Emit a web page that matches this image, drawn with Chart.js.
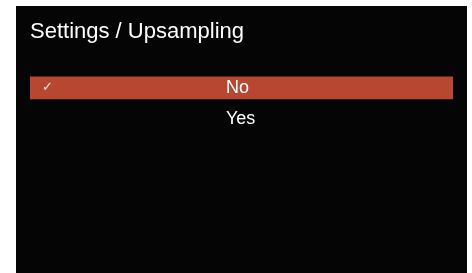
<!DOCTYPE html>
<html>
<head>
<meta charset="utf-8">
<script src="https://cdn.jsdelivr.net/npm/chart.js@4"></script>
<style>
  html, body { margin: 0; padding: 0; background: #fff; }
  #tela {
    position: absolute;
    left: 16px; top: 6px;
    width: 451px; height: 267px;
    background: #050505;
  }
  #menu { display: block; }
</style>
</head>
<body>
<div id="tela"><canvas id="menu" width="451" height="267"></canvas></div>
<script>
const titulo = "Settings / Upsampling";
const opcoes = ["No", "Yes"];
const selecionado = [1, 0];
const marcas = ["\u2713", ""];

// os rótulos ficam dentro da área, então a escala não deve ocupar espaço
function semEspaco(escala) {
  escala.width = 0;
  escala.paddingTop = 0;
  escala.paddingBottom = 0;
}

const ctx = document.getElementById("menu").getContext("2d");

new Chart(ctx, {
  type: "bar",
  data: {
    labels: opcoes,
    datasets: [{
      data: selecionado,
      backgroundColor: "#b84731",
      borderWidth: 0,
      barPercentage: 0.73,
      categoryPercentage: 1,
    }],
  },
  options: {
    indexAxis: "y",
    responsive: false,
    animation: false,
    events: [],
    layout: { padding: { left: 14, right: 14, top: 0, bottom: 138 } },
    plugins: {
      legend: { display: false },
      tooltip: { enabled: false },
      title: {
        display: true,
        text: titulo,
        align: "start",
        color: "#ffffff",
        font: { family: "Liberation Sans, Arial, sans-serif", size: 22, weight: "normal", lineHeight: 1.2 },
        padding: { top: 12.3, bottom: 27.5 },
      },
    },
    scales: {
      x: { display: false, min: 0, max: 1 },
      y: {
        grid: { display: false },
        border: { display: false },
        ticks: {
          z: 1,
          mirror: true,
          padding: 196,
          color: "#ffffff",
          font: { family: "Liberation Sans, Arial, sans-serif", size: 18 },
        },
        afterFit: semEspaco,
      },
      marca: {
        type: "category",
        position: "left",
        labels: marcas,
        offset: true,
        grid: { display: false },
        border: { display: false },
        ticks: {
          z: 1,
          mirror: true,
          padding: 12,
          color: "#f0e6e4",
          font: { family: "DejaVu Sans, sans-serif", size: 13 },
        },
        afterFit: semEspaco,
      },
    },
  },
});
</script>
</body>
</html>
